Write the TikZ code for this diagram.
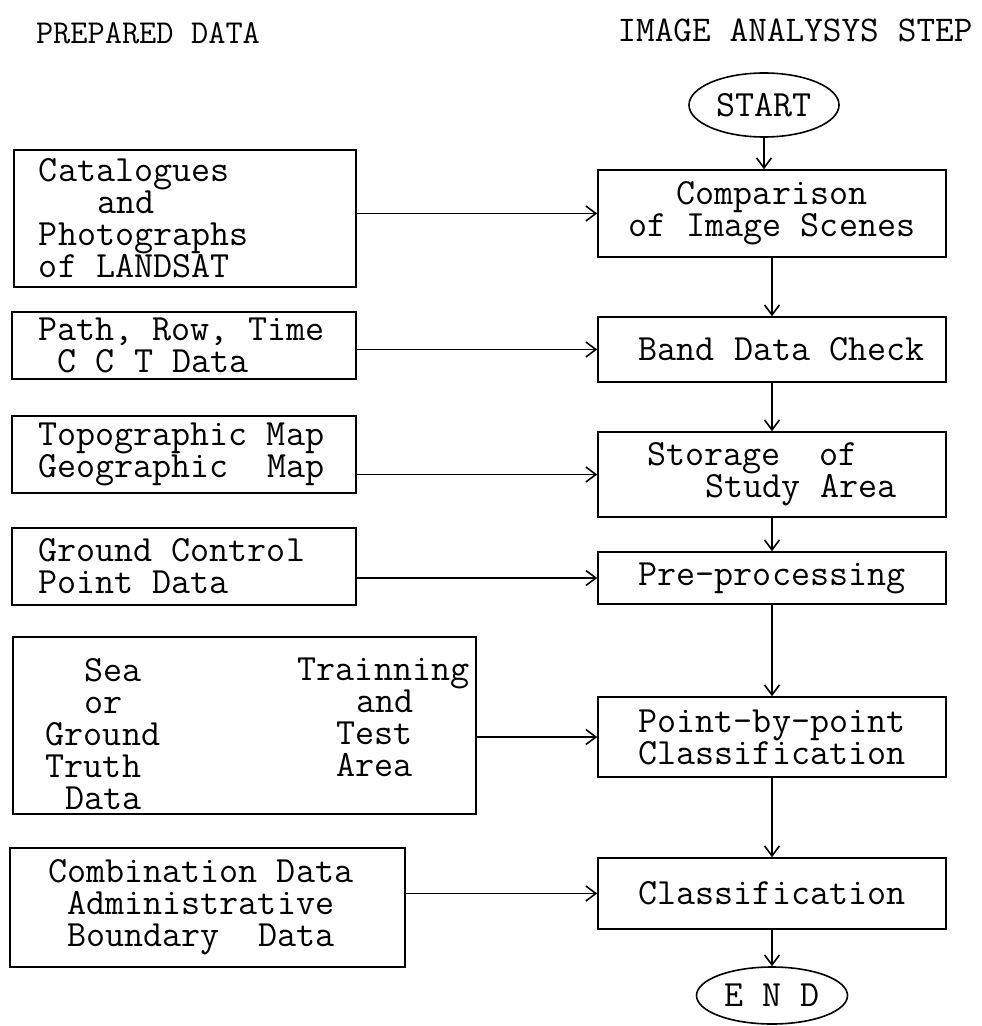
\documentclass[tikz,border=0pt]{standalone}
\usepackage{fontspec}
\usetikzlibrary{shapes,arrows.meta}
\def\pad#1{\hspace*{#1\dimexpr0.525em\relax}}
\def\typer{\ttfamily\fontsize{18.5}{16}\selectfont}

\begin{document}
\begin{tikzpicture}[x=0.5pt, y=-0.5pt, >={Straight Barb[length=5pt,width=7.5pt]}, line width=0.8pt]
    \tikzstyle{every node} = [font=\typer, execute at begin node={\spaceskip=0.525em\xspaceskip=0.525em\relax}]
    \tikzstyle{databox} = [draw, align=left, inner xsep=13pt, inner ysep=0pt, text width=146pt]
    \tikzstyle{stepbox} = [draw, align=center, inner sep=0pt, minimum width=174pt]
    \tikzstyle{terminal} = [draw, ellipse, inner sep=0pt]
    \tikzstyle{coltext} = [align=left, inner sep=0pt, anchor=north west]

    \useasboundingbox (0,0) rectangle (981,1026);

    % column headings
    \node (prepared) [font=\ttfamily\fontsize{16.7}{18}\selectfont] at (148,33) {PREPARED DATA};
    \node (analysis) [font=\ttfamily\fontsize{18.1}{20}\selectfont] at (795,30) {IMAGE ANALYSYS STEP};

    % analysis steps
    \node (start) [terminal, minimum width=75pt, minimum height=32pt] at (764,105) {START};
    \node (compare) [stepbox, minimum height=43.5pt] at (772,213.5) {Comparison\\of Image Scenes};
    \node (band) [stepbox, minimum height=32.5pt] at (772,349.5) {\pad{1}Band Data Check};
    \node (storage) [stepbox, align=left, minimum height=42.5pt] at (772,474.5) {Storage\ \ of\\\pad{3}Study Area};
    \node (preproc) [stepbox, minimum height=26pt] at (772,578) {Pre-processing};
    \node (pointwise) [stepbox, minimum height=40pt] at (772,737) {Point-by-point\\Classification};
    \node (classify) [stepbox, minimum height=35.5pt] at (772,893.5) {Classification};
    \node (end) [terminal, minimum width=75.5pt, minimum height=28.5pt] at (772,995.5) {E N D};

    % prepared data
    \node (catalog) [databox, inner xsep=12.5pt, minimum height=68.5pt] at (185,218.5) {Catalogues\\\pad{3}and\\Photographs\\of LANDSAT};
    \node (cct) [databox, minimum height=33.5pt] at (184,345.5) {Path, Row, Time\\\pad{1}C C T Data};
    \node (maps) [databox, minimum height=38.5pt] at (184,454.5) {Topographic Map\\Geographic\ \ Map};
    \node (gcp) [databox, minimum height=38.5pt] at (184,566.5) {Ground Control\\Point Data};
    \node (truth) [draw, inner sep=0pt, minimum width=231.5pt, minimum height=88.5pt] at (244.5,725.5) {};
    \node (seatext) [coltext] at (45,658) {\pad{2}Sea\\\pad{2}or\\Ground\\Truth\\\pad{1}Data};
    \node (traintext) [coltext] at (297,657) {Trainning\\\pad{3}and\\\pad{2}Test\\\pad{2}Area};
    \node (admin) [databox, inner xsep=19pt, text width=159.5pt, minimum height=59.5pt] at (207.5,907.5) {Combination Data\\\pad{1}Administrative\\\pad{1}Boundary\ \ Data};

    \draw [->] (start) -- (start |- compare.north);
    \draw [->] (compare) -- (band);
    \draw [->] (band) -- (storage);
    \draw [->] (storage) -- (preproc);
    \draw [->] (preproc) -- (pointwise);
    \draw [->] (pointwise) -- (classify);
    \draw [->] (classify) -- (end);

    \draw [->] (catalog.east |- compare.west) -- (compare.west);
    \draw [->] (cct.east |- band.west) -- (band.west);
    \draw [->] (maps.east |- storage.west) -- (storage.west);
    \draw [->] (gcp.east |- preproc.west) -- (preproc.west);
    \draw [->] (truth.east |- pointwise.west) -- (pointwise.west);
    \draw [->] (admin.east |- classify.west) -- (classify.west);
\end{tikzpicture}
\end{document}
